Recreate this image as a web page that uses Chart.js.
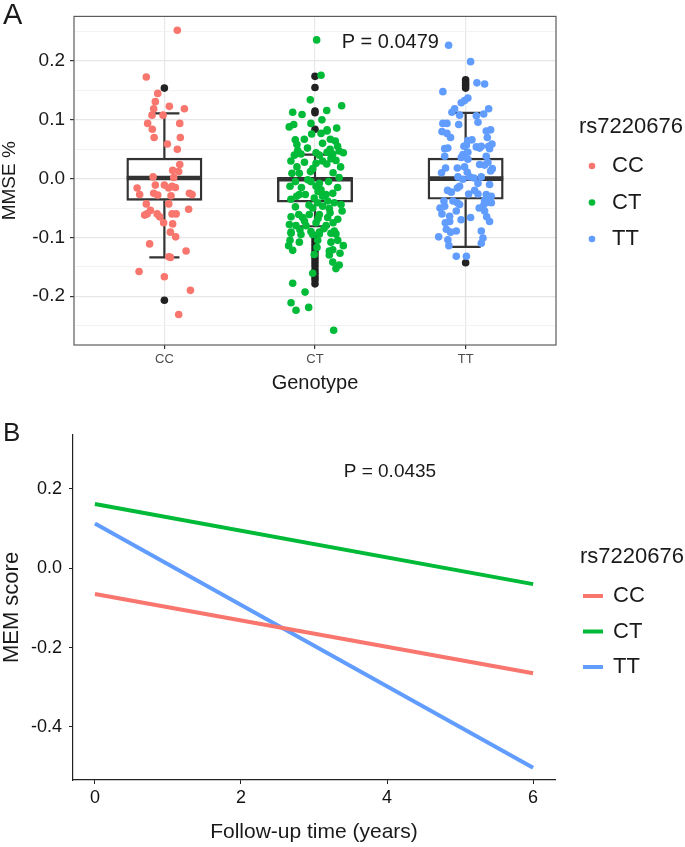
<!DOCTYPE html>
<html>
<head>
<meta charset="utf-8">
<script src="https://cdn.jsdelivr.net/npm/chart.js@4.4.1/dist/chart.umd.min.js"></script>
<style>
html,body{margin:0;padding:0;background:#fff;}
#wrap{position:relative;width:685px;height:847px;overflow:hidden;}
#cA{position:absolute;left:0;top:0;}
#cB{position:absolute;left:0;top:410px;}
</style>
</head>
<body>
<div id="wrap">
<canvas id="cA" width="685" height="410"></canvas>
<canvas id="cB" width="685" height="437"></canvas>
</div>
<script>
// ================= DATA =================
const genotypes = ['CC', 'CT', 'TT'];
const legendTitle = 'rs7220676';

// Panel A: box statistics (MMSE %)
const boxLower  = [-0.134, -0.081, -0.116];
const boxQ1     = [-0.037, -0.040, -0.035];
const boxMedian = [ 0.001, -0.001,  0.000];
const boxQ3     = [ 0.035,  0.002,  0.035];
const boxUpper  = [ 0.111,  0.041,  0.112];

// Panel A: outliers
const outliersCC = [0.154, -0.207];
const outliersCT = [0.174, 0.155, 0.115, 0.112, 0.084, -0.100, -0.106, -0.112, -0.118, -0.124, -0.130, -0.136, -0.142, -0.148, -0.155, -0.161, -0.167, -0.172, -0.179];
const outliersTT = [0.168, 0.163, 0.159, 0.154, -0.143];

// Panel A: jittered observations (jitter = horizontal offset from category, in category units)
const jitterCC = [0.086,-0.120,-0.044,-0.060,0.033,-0.071,0.133,-0.082,-0.009,-0.111,0.102,-0.080,-0.068,0.106,0.020,0.086,0.102,0.055,0.095,-0.075,0.062,-0.181,-0.060,0.000,0.051,0.029,0.073,-0.164,-0.071,-0.044,0.044,0.166,0.184,-0.120,0.029,0.161,-0.093,-0.131,-0.115,-0.048,-0.031,0.051,0.078,-0.005,0.055,0.040,0.075,-0.098,0.144,0.029,0.040,-0.168,0.000,0.173,0.095];
const mmseCC   = [0.2525,0.173,0.145,0.131,0.123,0.119,0.119,0.108,0.108,0.094,0.094,0.084,0.070,0.070,0.059,0.050,0.024,0.014,0.012,0.003,0.002,-0.016,-0.011,-0.011,-0.013,-0.016,-0.015,-0.027,-0.025,-0.028,-0.029,-0.025,-0.027,-0.043,-0.043,-0.052,-0.054,-0.062,-0.060,-0.060,-0.065,-0.060,-0.060,-0.075,-0.077,-0.091,-0.099,-0.111,-0.123,-0.133,-0.134,-0.158,-0.167,-0.190,-0.231];

const jitterCT = [0.011,0.040,-0.031,0.177,-0.148,-0.086,0.078,0.046,-0.027,-0.171,
  -0.141,0.080,0.144,-0.022,0.080,-0.131,-0.071,0.102,0.135,0.040,
  -0.115,-0.137,-0.093,0.007,0.029,0.080,0.118,0.161,0.188,0.139,
  0.106,0.007,-0.015,0.078,-0.153,-0.104,-0.048,-0.027,0.029,0.007,
  -0.166,0.040,-0.104,-0.122,-0.064,0.073,0.118,-0.005,0.018,0.084,
  0.128,0.173,0.051,-0.015,0.095,-0.108,-0.159,-0.082,-0.038,0.029,
  0.084,0.151,0.007,-0.126,-0.060,0.073,-0.159,-0.027,0.029,0.128,
  -0.159,-0.093,-0.015,0.029,0.106,0.139,-0.166,-0.104,0.018,0.106,
  0.151,0.188,-0.175,-0.148,0.013,0.095,0.118,-0.005,0.166,0.095,
  0.118,0.161,0.139,-0.015,-0.148,-0.066,-0.159,-0.042,-0.126,0.124,
  -0.12,0.05,0.15,-0.05,0.10,-0.16,-0.07,0.05,0.17,-0.12,
  0.12,-0.03,0.16,-0.13,0.09,-0.09,0.15,0.02,-0.16,0.05,
  -0.04,0.10,-0.13,0.18,0.02,-0.07,0.12,-0.17,0.06,-0.10];
const mmseCT = [0.236,0.176,0.134,0.124,0.113,0.109,0.116,0.100,0.094,0.088,
  0.092,0.083,0.086,0.076,0.081,0.066,0.067,0.067,0.064,0.077,
  0.048,0.040,0.042,0.044,0.040,0.045,0.042,0.047,0.044,0.031,
  0.034,0.026,0.017,0.025,0.009,0.009,-0.002,-0.005,-0.008,-0.013,
  -0.013,-0.019,-0.027,-0.030,-0.027,-0.027,-0.025,-0.033,-0.041,-0.038,
  -0.041,-0.044,-0.047,-0.050,-0.051,-0.061,-0.065,-0.066,-0.061,-0.061,
  -0.066,-0.069,-0.075,-0.080,-0.080,-0.080,-0.091,-0.090,-0.091,-0.089,
  -0.093,-0.095,-0.095,-0.094,-0.093,-0.094,-0.105,-0.108,-0.105,-0.108,
  -0.105,-0.114,-0.114,-0.122,-0.117,-0.123,-0.121,-0.129,-0.127,-0.130,
  -0.142,-0.147,-0.153,-0.161,-0.178,-0.193,-0.211,-0.219,-0.224,-0.258,
  0.058,0.060,0.055,0.052,0.050,0.030,0.028,0.030,0.020,0.020,
  0.010,0.012,0.002,-0.005,-0.005,-0.015,-0.015,-0.022,-0.035,-0.030,
  -0.045,-0.058,-0.048,-0.055,-0.068,-0.072,-0.075,-0.078,-0.085,-0.087];

const jitterTT = [-0.113,0.033,0.075,0.126,-0.151,0.015,-0.007,-0.029,-0.073,-0.091,
  0.153,-0.040,0.071,0.082,-0.151,-0.124,-0.046,-0.157,-0.124,0.137,
  0.166,0.144,0.015,0.042,-0.139,-0.118,-0.011,0.005,0.071,0.093,
  0.104,0.153,0.175,0.159,0.137,-0.139,-0.018,0.015,-0.029,0.015,
  0.148,-0.133,-0.055,-0.007,0.093,0.126,0.177,0.166,0.011,-0.051,
  0.027,0.104,-0.018,0.055,0.159,0.082,-0.040,-0.055,-0.095,0.020,
  0.082,0.137,-0.144,-0.084,-0.055,0.126,0.148,0.171,0.122,-0.139,
  -0.040,-0.062,-0.157,0.126,-0.106,0.033,0.159,-0.135,-0.106,-0.062,
  -0.128,-0.100,0.104,-0.179,-0.118,0.115,0.104,-0.111,-0.062,0.005,
  -0.10,0.12,-0.16,0.06,-0.12,0.17,-0.03,0.09,-0.17,0.14];
const mmseTT = [0.227,0.199,0.163,0.161,0.148,0.137,0.133,0.129,0.119,0.113,
  0.119,0.108,0.107,0.096,0.094,0.094,0.092,0.080,0.077,0.081,
  0.083,0.070,0.065,0.066,0.051,0.052,0.055,0.057,0.054,0.052,
  0.055,0.055,0.059,0.051,0.038,0.038,0.041,0.045,0.036,0.033,
  0.028,0.018,0.018,0.020,0.024,0.023,0.017,0.013,0.011,0.003,
  0.003,0.003,-0.001,0.001,-0.010,-0.008,-0.013,-0.016,-0.023,-0.026,
  -0.026,-0.027,-0.038,-0.038,-0.041,-0.037,-0.040,-0.041,-0.044,-0.047,
  -0.044,-0.055,-0.060,-0.055,-0.064,-0.066,-0.073,-0.075,-0.073,-0.089,
  -0.086,-0.091,-0.089,-0.099,-0.104,-0.101,-0.110,-0.114,-0.132,-0.132,
  0.070,0.110,0.010,-0.020,-0.020,-0.030,-0.070,-0.050,-0.050,-0.065];

const yTicksA = [-0.25, -0.2, -0.15, -0.1, -0.05, 0, 0.05, 0.1, 0.15, 0.2, 0.25];
const pValueA = 'P = 0.0479';

// Panel B: fitted MEM score trajectories
const years = [0, 6];
const memCC = [-0.065, -0.265];
const memCT = [ 0.162, -0.040];
const memTT = [ 0.113, -0.503];
const xTicksB = [0, 2, 4, 6];
const yTicksB = [-0.4, -0.2, 0, 0.2];
const pValueB = 'P = 0.0435';

// ================= STYLE / LAYOUT =================
const FONT = "'Liberation Sans', Arial, Helvetica, sans-serif";
Chart.defaults.font.family = FONT;
const COLORS = ['#F8766D', '#00BA38', '#619CFF'];
const INK = '#1a1a1a';
const BOX_HALF = 0.25, CAP_HALF = 0.1;
const AX = {min: 0.4, max: 3.6}, AY = {min: -0.283, max: 0.276};
const plotA = {left: 74, right: 556, top: 12, bottom: 345, height: 410};
const boxPx = 2 * BOX_HALF * (plotA.right - plotA.left) / (AX.max - AX.min);
const BX = {min: -0.3, max: 6.3}, BY = {min: -0.534, max: 0.336};
const plotB = {left: 73, right: 555, top: 25, bottom: 370, height: 437};
const annA = {x: 2.5, y: 0.231};
const annB = {x: 4.04, y: 0.243};

const isMajor = v => Math.abs(v * 10 - Math.round(v * 10)) < 1e-6;

// ================= PANEL A DATASETS =================
const jitters = [jitterCC, jitterCT, jitterTT];
const values = [mmseCC, mmseCT, mmseTT];
const outliers = [outliersCC, outliersCT, outliersTT];

const pointSets = genotypes.map((g, gi) => ({
  type: 'scatter', label: g, legendGroup: true,
  data: values[gi].map((v, i) => ({x: gi + 1 + jitters[gi][i], y: v})),
  backgroundColor: COLORS[gi], borderColor: COLORS[gi],
  pointRadius: 3.8, pointBorderWidth: 0, order: 0
}));

const outlierSet = {
  type: 'scatter', label: 'outliers',
  data: outliers.flatMap((arr, gi) => arr.map(v => ({x: gi + 1, y: v}))),
  backgroundColor: '#222', borderColor: '#222', pointRadius: 3.8, pointBorderWidth: 0, order: 1
};

const boxSet = {
  type: 'bar', label: 'box',
  data: genotypes.map((g, i) => ({x: i + 1, y: [boxQ1[i], boxQ3[i]]})),
  backgroundColor: '#ffffff', borderColor: '#333333', borderWidth: 2.4,
  borderSkipped: false, barThickness: boxPx, order: 3
};

const whiskerData = [];
genotypes.forEach((g, i) => {
  const c = i + 1;
  whiskerData.push({x: c, y: boxQ3[i]}, {x: c, y: boxUpper[i]}, {x: c, y: null});
  whiskerData.push({x: c, y: boxQ1[i]}, {x: c, y: boxLower[i]}, {x: c, y: null});
  whiskerData.push({x: c - CAP_HALF, y: boxUpper[i]}, {x: c + CAP_HALF, y: boxUpper[i]}, {x: c, y: null});
  whiskerData.push({x: c - CAP_HALF, y: boxLower[i]}, {x: c + CAP_HALF, y: boxLower[i]}, {x: c, y: null});
});
const whiskerSet = {
  type: 'line', label: 'whiskers', data: whiskerData, showLine: true, spanGaps: false,
  borderColor: '#333333', borderWidth: 2.2, pointRadius: 0, tension: 0, fill: false, order: 4
};

const medianData = [];
genotypes.forEach((g, i) => {
  medianData.push({x: i + 1 - BOX_HALF, y: boxMedian[i]}, {x: i + 1 + BOX_HALF, y: boxMedian[i]}, {x: i + 1 + BOX_HALF, y: null});
});
const medianSet = {
  type: 'line', label: 'median', data: medianData, showLine: true, spanGaps: false,
  borderColor: '#333333', borderWidth: 4.6, pointRadius: 0, tension: 0, fill: false, order: 2
};

// ================= PLUGINS =================
function legendPlugin(id, cfg) {
  return {
    id,
    afterDraw(chart) {
      const ctx = chart.ctx;
      const groups = chart.data.datasets.filter(d => d.legendGroup);
      ctx.save();
      ctx.textBaseline = 'middle'; ctx.textAlign = 'left';
      ctx.fillStyle = INK; ctx.font = `22px ${FONT}`;
      ctx.fillText(legendTitle, cfg.x, cfg.titleY);
      groups.forEach((d, i) => {
        const y = cfg.firstY + i * cfg.step;
        if (cfg.key === 'point') {
          ctx.beginPath(); ctx.arc(cfg.keyX, y, 3.3, 0, Math.PI * 2);
          ctx.fillStyle = d.backgroundColor; ctx.fill();
        } else {
          ctx.beginPath(); ctx.moveTo(cfg.keyX - 10, y); ctx.lineTo(cfg.keyX + 10, y);
          ctx.strokeStyle = d.borderColor; ctx.lineWidth = 4; ctx.stroke();
        }
        ctx.fillStyle = INK; ctx.font = `22px ${FONT}`;
        ctx.fillText(d.label, cfg.labelX, y);
      });
      ctx.restore();
    }
  };
}

function annotationPlugin(id, letter, letterFont, letterY, pText, pPos, pFont, frame) {
  return {
    id,
    afterDatasetsDraw(chart) {
      const ctx = chart.ctx, ca = chart.chartArea;
      if (frame) {
        ctx.save();
        ctx.strokeStyle = '#5c5c5c'; ctx.lineWidth = 1.2;
        ctx.strokeRect(ca.left, ca.top, ca.right - ca.left, ca.bottom - ca.top);
        ctx.restore();
      }
    },
    afterDraw(chart) {
      const ctx = chart.ctx;
      ctx.save();
      ctx.fillStyle = INK;
      ctx.textBaseline = 'middle';
      ctx.textAlign = 'left';
      ctx.font = `${letterFont}px ${FONT}`;
      ctx.fillText(letter, 3, letterY);
      ctx.textAlign = 'center';
      ctx.font = `${pFont}px ${FONT}`;
      const px = chart.scales.x.getPixelForValue(pPos.x);
      const py = chart.scales.y.getPixelForValue(pPos.y);
      ctx.fillText(pText, px, py);
      ctx.restore();
    }
  };
}

// ================= PANEL A CHART =================
new Chart(document.getElementById('cA'), {
  type: 'scatter',
  data: {datasets: [...pointSets, outlierSet, medianSet, boxSet, whiskerSet]},
  options: {
    responsive: false, animation: false, events: [],
    layout: {padding: {left: 0, right: 685 - plotA.right, top: plotA.top, bottom: 0}},
    plugins: {legend: {display: false}, tooltip: {enabled: false}},
    scales: {
      x: {
        type: 'linear', min: AX.min, max: AX.max, bounds: 'data', offset: false,
        afterBuildTicks: s => { s.ticks = genotypes.map((g, i) => ({value: i + 1})); },
        afterFit: s => { s.height = plotA.height - plotA.bottom; },
        ticks: {autoSkip: false, maxRotation: 0, padding: 3, color: '#4d4d4d', font: {size: 13},
                callback: v => genotypes[Math.round(v) - 1]},
        grid: {offset: false, color: '#e8e8e8', lineWidth: 1.2, tickColor: '#333', tickLength: 4},
        border: {display: false},
        title: {display: true, text: 'Genotype', color: INK, font: {size: 20, lineHeight: 1.2}, padding: {top: 0, bottom: 15}}
      },
      y: {
        type: 'linear', min: AY.min, max: AY.max, bounds: 'data', beginAtZero: false, offset: false,
        afterBuildTicks: s => { s.ticks = yTicksA.map(v => ({value: v})); },
        afterFit: s => { s.width = plotA.left; },
        ticks: {autoSkip: false, padding: 5, color: INK, font: {size: 19},
                callback: v => isMajor(v) ? v.toFixed(1) : ''},
        grid: {
          offset: false,
          color: c => (c.tick && !isMajor(c.tick.value)) ? '#f0f0f0' : '#e6e6e6',
          lineWidth: c => (c.tick && !isMajor(c.tick.value)) ? 0.8 : 1.2,
          tickColor: c => (c.tick && !isMajor(c.tick.value)) ? 'rgba(0,0,0,0)' : '#333',
          tickLength: 4
        },
        border: {display: false},
        title: {display: true, text: 'MMSE %', color: INK, font: {size: 19, lineHeight: 1}, padding: {top: 0, bottom: 0}}
      }
    }
  },
  plugins: [
    annotationPlugin('annA', 'A', 29, 16, pValueA, annA, 20, true),
    legendPlugin('legA', {x: 579, titleY: 127, firstY: 166, step: 36.5, key: 'point', keyX: 592, labelX: 612})
  ]
});

// ================= PANEL B CHART =================
const memSeries = [memCC, memCT, memTT];
new Chart(document.getElementById('cB'), {
  type: 'line',
  data: {
    datasets: genotypes.map((g, gi) => ({
      label: g, legendGroup: true,
      data: years.map((t, i) => ({x: t, y: memSeries[gi][i]})),
      borderColor: COLORS[gi], backgroundColor: COLORS[gi],
      borderWidth: 4, pointRadius: 0, tension: 0, fill: false
    }))
  },
  options: {
    responsive: false, animation: false, events: [],
    layout: {padding: {left: 0, right: 685 - plotB.right, top: plotB.top, bottom: 0}},
    plugins: {legend: {display: false}, tooltip: {enabled: false}},
    scales: {
      x: {
        type: 'linear', min: BX.min, max: BX.max, bounds: 'data', offset: false,
        afterBuildTicks: s => { s.ticks = xTicksB.map(v => ({value: v})); },
        afterFit: s => { s.height = plotB.height - plotB.bottom; },
        ticks: {autoSkip: false, maxRotation: 0, padding: 3, color: '#111', font: {size: 18},
                callback: v => String(v)},
        grid: {display: true, drawOnChartArea: false, tickColor: '#222', tickLength: 4},
        border: {display: true, color: '#222', width: 1.2},
        title: {display: true, text: 'Follow-up time (years)', color: INK, font: {size: 21, lineHeight: 1.2}, padding: {top: 0, bottom: 2}}
      },
      y: {
        type: 'linear', min: BY.min, max: BY.max, bounds: 'data', beginAtZero: false,
        afterBuildTicks: s => { s.ticks = yTicksB.map(v => ({value: v})); },
        afterFit: s => { s.width = plotB.left; },
        ticks: {autoSkip: false, padding: 7, color: '#111', font: {size: 18},
                callback: v => v.toFixed(1)},
        grid: {display: true, drawOnChartArea: false, tickColor: '#222', tickLength: 4},
        border: {display: true, color: '#222', width: 1.2},
        title: {display: true, text: 'MEM score', color: INK, font: {size: 22, lineHeight: 1}, padding: {top: 1, bottom: 0}}
      }
    }
  },
  plugins: [
    annotationPlugin('annB', 'B', 26, 24, pValueB, annB, 19, false),
    legendPlugin('legB', {x: 580, titleY: 147, firstY: 186, step: 35.5, key: 'line', keyX: 593, labelX: 613})
  ]
});
</script>
</body>
</html>
